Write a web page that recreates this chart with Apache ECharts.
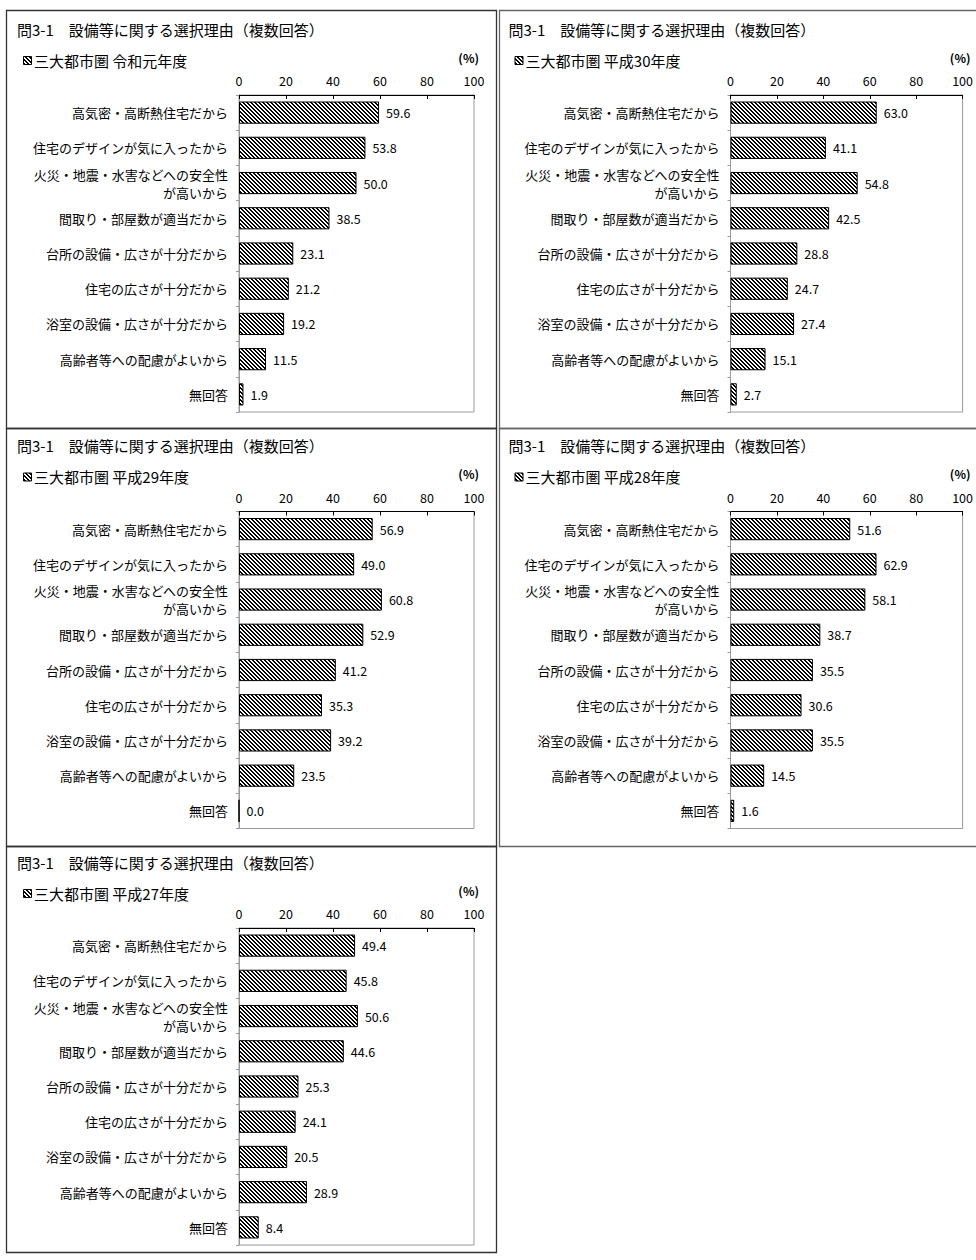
<!DOCTYPE html>
<html><head><meta charset="utf-8">
<script src="https://cdn.jsdelivr.net/npm/echarts@6/dist/echarts.min.js"></script>
<style>html,body{margin:0;padding:0;background:#fff}#c{width:976px;height:1260px}</style>
</head><body><div id="c"></div>
<script>
const categories = [
  '高気密・高断熱住宅だから',
  '住宅のデザインが気に入ったから',
  '火災・地震・水害などへの安全性\nが高いから',
  '間取り・部屋数が適当だから',
  '台所の設備・広さが十分だから',
  '住宅の広さが十分だから',
  '浴室の設備・広さが十分だから',
  '高齢者等への配慮がよいから',
  '無回答'
];
const titleText = '問3-1　設備等に関する選択理由（複数回答）';
const panelNames = ['三大都市圏 令和元年度','三大都市圏 平成30年度','三大都市圏 平成29年度','三大都市圏 平成28年度','三大都市圏 平成27年度'];
const valuesR1  = [59.6, 53.8, 50.0, 38.5, 23.1, 21.2, 19.2, 11.5, 1.9];
const valuesH30 = [63.0, 41.1, 54.8, 42.5, 28.8, 24.7, 27.4, 15.1, 2.7];
const valuesH29 = [56.9, 49.0, 60.8, 52.9, 41.2, 35.3, 39.2, 23.5, 0.0];
const valuesH28 = [51.6, 62.9, 58.1, 38.7, 35.5, 30.6, 35.5, 14.5, 1.6];
const valuesH27 = [49.4, 45.8, 50.6, 44.6, 25.3, 24.1, 20.5, 28.9, 8.4];
const axisTickValues = [0, 20, 40, 60, 80, 100];
const unitLabel = '(%)';

const allValues = [valuesR1, valuesH30, valuesH29, valuesH28, valuesH27];
const panelPos = [[0,0],[1,0],[0,1],[1,1],[0,2]];
const FONT = '"Noto Sans CJK JP", "Noto Sans", sans-serif';

// diagonal hatch pattern
function makeHatch() {
  const s = 4;
  const cv = document.createElement('canvas');
  cv.width = s; cv.height = s;
  const ctx = cv.getContext('2d');
  const img = ctx.createImageData(s, s);
  for (let y = 0; y < s; y++) for (let x = 0; x < s; x++) {
    const k = ((x - y) % s + s) % s;
    const black = k < 2;
    const i = (y * s + x) * 4;
    const v = black ? 0 : 255;
    img.data[i] = v; img.data[i+1] = v; img.data[i+2] = v; img.data[i+3] = 255;
  }
  ctx.putImageData(img, 0, 0);
  return cv;
}
const hatch = { image: makeHatch(), repeat: 'repeat' };

const chart = echarts.init(document.getElementById('c'), null, { renderer: 'svg' });

const grids = [], xAxes = [], yAxes = [], series = [], graphics = [];
const COLW = 491.5, ROWH = 416.5;

// panel borders
const borders = [
  { x: 6.5, y: 10.5, w: 490, h: 418, c: '#333' },
  { x: 499.5, y: 10.5, w: 500, h: 418, c: '#666' },
  { x: 6.5, y: 428.5, w: 490, h: 418, c: '#333' },
  { x: 499.5, y: 428.5, w: 500, h: 418, c: '#666' },
  { x: 6.5, y: 846.5, w: 490, h: 406, c: '#333' }
];
borders.forEach(b => graphics.push({
  type: 'rect', silent: true, z: 0,
  shape: { x: b.x, y: b.y, width: b.w, height: b.h },
  style: { fill: 'none', stroke: b.c, lineWidth: 1.3 }
}));

allValues.forEach((vals, i) => {
  const ox = panelPos[i][0] * COLW, oy = panelPos[i][1] * ROWH;
  grids.push({ left: 239 + ox, top: 95 + oy, width: 235, height: 317,
    show: true, borderColor: '#9a9a9a', borderWidth: 1, backgroundColor: 'transparent' });
  xAxes.push({
    type: 'value', gridIndex: i, position: 'top', min: 0, max: 100, interval: 20,
    axisLine: { show: true, lineStyle: { color: '#000', width: 1 } },
    axisTick: { show: true, inside: true, length: 4, lineStyle: { color: '#000' } },
    splitLine: { show: false },
    axisLabel: { margin: 8, color: '#000', fontSize: 12.5, fontFamily: FONT,
      formatter: v => axisTickValues.includes(v) ? String(v) : '' }
  });
  yAxes.push({
    type: 'category', gridIndex: i, inverse: true, data: categories,
    axisLine: { show: true, lineStyle: { color: '#9a9a9a' } },
    axisTick: { show: true, length: 3, interval: 0, lineStyle: { color: '#9a9a9a' } },
    axisLabel: { margin: 11, color: '#000', fontSize: 13, fontFamily: FONT,
      align: 'right', lineHeight: 18, interval: 0 }
  });
  series.push({
    type: 'bar', xAxisIndex: i, yAxisIndex: i, data: vals,
    barCategoryGap: '37%',
    itemStyle: { color: hatch, borderColor: '#000', borderWidth: 1 },
    label: { show: true, position: 'right', distance: 7, color: '#000',
      fontSize: 12.5, fontFamily: FONT, formatter: p => p.value.toFixed(1) },
    silent: true, animation: false
  });
  graphics.push({ type: 'text', silent: true, x: 17 + ox, y: 29 + oy,
    style: { text: titleText, fill: '#000', font: '15px ' + FONT, verticalAlign: 'middle', textAlign: 'left' } });
  graphics.push({ type: 'rect', silent: true, shape: { x: 23.5 + ox, y: 56.5 + oy, width: 8, height: 8 },
    style: { fill: hatch, stroke: '#000', lineWidth: 1 } });
  graphics.push({ type: 'text', silent: true, x: 34 + ox, y: 60 + oy,
    style: { text: panelNames[i], fill: '#000', font: '15px ' + FONT, verticalAlign: 'middle', textAlign: 'left' } });
  graphics.push({ type: 'text', silent: true, x: 479 + ox, y: 57 + oy,
    style: { text: unitLabel, fill: '#000', font: 'bold 12px ' + FONT, verticalAlign: 'middle', textAlign: 'right' } });
});

chart.setOption({
  backgroundColor: '#fff',
  animation: false,
  grid: grids, xAxis: xAxes, yAxis: yAxes, series: series,
  graphic: { elements: graphics }
});
</script></body></html>
